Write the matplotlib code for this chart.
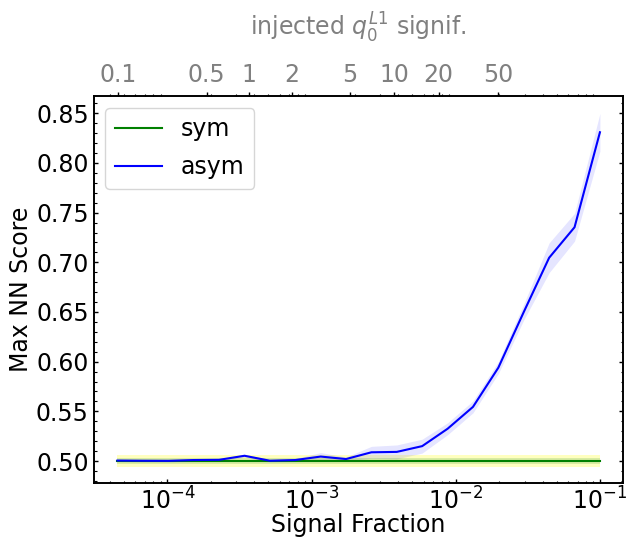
import matplotlib
matplotlib.use("Agg")
import matplotlib.pyplot as plt
from matplotlib.ticker import AutoMinorLocator, NullFormatter
import numpy as np

# Signal fraction (x) values
signal_fraction = [4.51e-5, 6.77e-5, 1.015e-4, 1.52e-4, 2.28e-4, 3.43e-4, 5.14e-4,
                   7.71e-4, 1.157e-3, 1.734e-3, 2.60e-3, 3.90e-3, 5.85e-3, 8.78e-3,
                   1.317e-2, 1.975e-2, 2.963e-2, 4.444e-2, 6.667e-2, 0.1]

# asym series
asym_mean = [0.5005, 0.5003, 0.5002, 0.5010, 0.5012, 0.5053, 0.5003, 0.5010,
             0.5045, 0.5020, 0.5088, 0.5092, 0.5150, 0.5325, 0.5545, 0.5940,
             0.6500, 0.7046, 0.7353, 0.8309]
asym_err = [0.001, 0.001, 0.001, 0.001, 0.001, 0.0015, 0.001, 0.0015,
            0.004, 0.002, 0.006, 0.007, 0.007, 0.006, 0.006, 0.006,
            0.008, 0.015, 0.014, 0.019]

# sym series (flat)
sym_mean = [0.5000] * 20
sym_err1 = [0.0027] * 20
sym_err2 = [0.006] * 20

# top axis: injected significance labels and the signal fraction where they sit
sig_labels = ["0.1", "0.5", "1", "2", "5", "10", "20", "50"]
sig_fraction = [4.53e-5, 1.875e-4, 3.69e-4, 7.29e-4, 1.854e-3, 3.74e-3, 7.60e-3, 1.963e-2]

x = np.array(signal_fraction)
am = np.array(asym_mean)
ae = np.array(asym_err)
sm = np.array(sym_mean)
s1 = np.array(sym_err1)
s2 = np.array(sym_err2)

FS = 17

fig = plt.figure(figsize=(6.27, 5.38), dpi=100)
ax = fig.add_axes([0.1494, 0.1028, 0.9936 - 0.1494, 0.8216 - 0.1028])

ax.fill_between(x, sm - s2, sm + s2, color="yellow", alpha=0.25, lw=0)
ax.fill_between(x, sm - s1, sm + s1, color="green", alpha=0.15, lw=0)
ax.plot(x, sm, color="green", lw=1.5, label="sym")
ax.fill_between(x, am - ae, am + ae, color="blue", alpha=0.1, lw=0)
ax.plot(x, am, color="blue", lw=1.5, label="asym")

ax.set_xscale("log")
ax.set_xlim(3.083e-5, 0.1445)
ax.set_ylim(0.4782, 0.8674)
ax.set_yticks([0.50, 0.55, 0.60, 0.65, 0.70, 0.75, 0.80, 0.85])
ax.yaxis.set_minor_locator(AutoMinorLocator(5))
ax.tick_params(which="both", direction="in", left=True, right=True, bottom=True, top=False,
               labelsize=FS)
ax.tick_params(which="major", length=3.0, width=1.0)
ax.tick_params(which="minor", length=1.8, width=0.8)
for sp in ax.spines.values():
    sp.set_linewidth(1.2)

ax.set_xlabel("Signal Fraction", fontsize=FS, labelpad=-1.5)
ax.set_ylabel("Max NN Score", fontsize=FS, labelpad=2)

leg = ax.legend(loc="upper left", fontsize=FS, frameon=True, fancybox=True,
                labelspacing=0.6)

ax2 = ax.twiny()
ax2.set_xscale("log")
ax2.set_xlim(ax.get_xlim())
ax2.set_xticks(sig_fraction)
ax2.set_xticklabels(sig_labels)
ax2.xaxis.set_minor_formatter(NullFormatter())
ax2.tick_params(which="both", direction="out", colors="black", labelcolor="gray", labelsize=FS)
ax2.tick_params(which="major", length=3.0, width=1.0)
ax2.tick_params(which="minor", length=1.8, width=0.8)
ax2.set_xlabel("injected $q_0^{L1}$ signif.", color="gray", fontsize=FS, labelpad=20)
for sp in ax2.spines.values():
    sp.set_linewidth(1.2)

fig.savefig("out.png", dpi=100)
